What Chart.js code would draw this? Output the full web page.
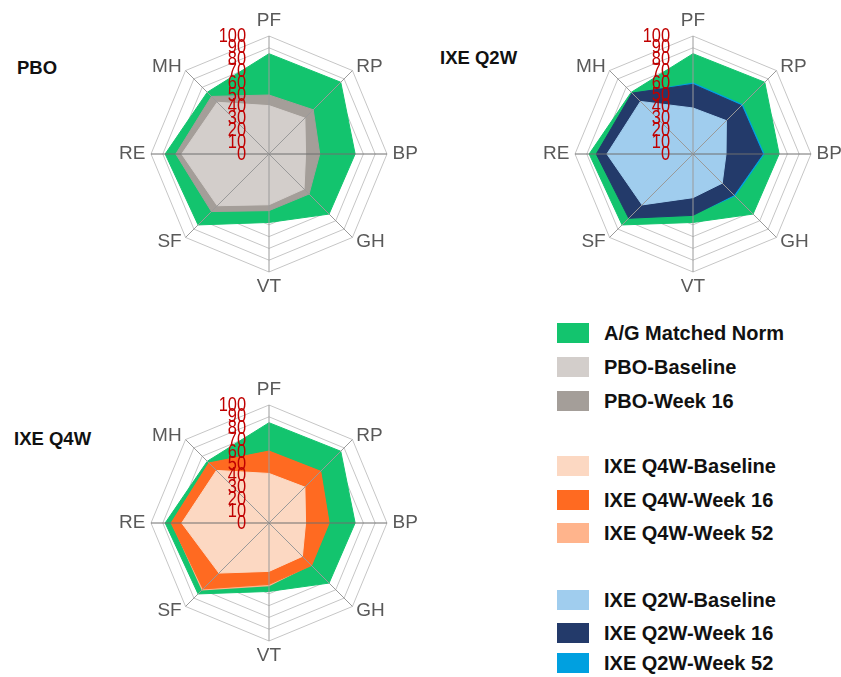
<!DOCTYPE html>
<html>
<head>
<meta charset="utf-8">
<script src="https://cdn.jsdelivr.net/npm/chart.js@4.4.1/dist/chart.umd.min.js"></script>
<style>
  html, body { margin: 0; padding: 0; background: #fff; }
  body { width: 841px; height: 677px; position: relative; overflow: hidden;
         font-family: "Liberation Sans", Arial, sans-serif; }
  .panel { position: absolute; width: 360px; height: 320px; }
  .title { position: absolute; font-weight: bold; font-size: 18.5px; color: #111; line-height: 1; }
  .legend-row { position: absolute; left: 557px; height: 20px; display: flex; align-items: center; }
  .swatch { width: 32px; height: 20px; margin-right: 15px; }
  .legend-row span { font-weight: bold; font-size: 20px; color: #111; white-space: nowrap; }
</style>
</head>
<body>
<div class="title" style="left:17px; top:59px;">PBO</div>
<div class="title" style="left:440px; top:49px;">IXE Q2W</div>
<div class="title" style="left:14px; top:430px;">IXE Q4W</div>

<div class="panel" style="left:89px; top:-6px;"><canvas id="chart-pbo"></canvas></div>
<div class="panel" style="left:513px; top:-6px;"><canvas id="chart-q2w"></canvas></div>
<div class="panel" style="left:89px; top:363px;"><canvas id="chart-q4w"></canvas></div>

<div id="legend"></div>

<script>
const domains = ["PF", "RP", "BP", "GH", "VT", "SF", "RE", "MH"];
const tickValues = [0, 10, 20, 30, 40, 50, 60, 70, 80, 90, 100];

const normScores = [85, 86, 73, 72, 58, 85, 88, 74];
const pboBaseline = [41, 43, 31, 42, 43, 62, 74, 62];
const pboWeek16 = [50, 53, 43, 48, 48, 69, 79, 69];
const q4wBaseline = [42, 43, 31, 40, 41, 60, 74, 63];
const q4wWeek16 = [61, 62, 51, 51, 52, 79, 83, 72];
const q4wWeek52 = [60, 61, 50, 50, 53, 80, 82, 71];
const q2wBaseline = [39, 40, 28, 35, 37, 61, 73, 63];
const q2wWeek16 = [59, 58, 59, 49, 52, 77, 82, 73];
const q2wWeek52 = [60, 59, 60, 50, 51, 76, 81, 72];

const colors = {
  norm: "#13c46e",
  pboBase: "#d3cecb",
  pboWk16: "#a49e99",
  q4wBase: "#fcd8c2",
  q4wWk16: "#ff6a21",
  q4wWk52: "#ffb48c",
  q2wBase: "#a0cdee",
  q2wWk16: "#233a6a",
  q2wWk52: "#00a0e0",
};

const legendItems = [
  ["A/G Matched Norm", colors.norm, 323],
  ["PBO-Baseline", colors.pboBase, 357],
  ["PBO-Week 16", colors.pboWk16, 391],
  ["IXE Q4W-Baseline", colors.q4wBase, 456],
  ["IXE Q4W-Week 16", colors.q4wWk16, 490],
  ["IXE Q4W-Week 52", colors.q4wWk52, 523],
  ["IXE Q2W-Baseline", colors.q2wBase, 590],
  ["IXE Q2W-Week 16", colors.q2wWk16, 623],
  ["IXE Q2W-Week 52", colors.q2wWk52, 653],
];

document.getElementById("legend").innerHTML = legendItems
  .map(([label, color, top]) => `
    <div class="legend-row" style="top:${top}px">
      <div class="swatch" style="background:${color}"></div>
      <span>${label}</span>
    </div>`)
  .join("");

// red value labels sit left of the vertical axis, on top of the fills
const tickLabelsPlugin = {
  id: "tickLabels",
  afterDraw(chart) {
    const scale = chart.scales.r;
    const ctx = chart.ctx;
    ctx.save();
    ctx.fillStyle = "#c00000";
    ctx.font = "20px 'Liberation Sans', Arial, sans-serif";
    ctx.textAlign = "right";
    ctx.textBaseline = "middle";
    tickValues.forEach((v) => {
      const y = scale.yCenter - scale.getDistanceFromCenterForValue(v);
      ctx.save();
      ctx.translate(scale.xCenter - 23, y);
      ctx.scale(0.82, 1);
      ctx.fillText(String(v), 0, 0);
      ctx.restore();
    });
    ctx.restore();
  },
};

// domain names around the outer ring
const domainLabelsPlugin = {
  id: "domainLabels",
  afterDraw(chart) {
    const scale = chart.scales.r;
    const ctx = chart.ctx;
    ctx.save();
    ctx.fillStyle = "#595959";
    ctx.font = "19px 'Liberation Sans', Arial, sans-serif";
    ctx.textBaseline = "middle";
    domains.forEach((name, i) => {
      const vertical = i === 0 || i === 4;
      const pos = scale.getPointPosition(i, scale.drawingArea + (vertical ? 15 : 5.5));
      const angle = (i * 360) / domains.length;
      ctx.textAlign = vertical ? "center" : angle < 180 ? "left" : "right";
      ctx.fillText(name, pos.x, pos.y);
    });
    ctx.restore();
  },
};

function area(data, color, borderWidth = 1) {
  return {
    data,
    backgroundColor: color,
    borderColor: color,
    borderWidth,
    fill: true,
    pointRadius: 0,
    pointHoverRadius: 0,
  };
}

function radar(id, datasets) {
  return new Chart(document.getElementById(id), {
    type: "radar",
    data: { labels: domains, datasets },
    options: {
      responsive: false,
      animation: false,
      layout: { padding: { left: 62, right: 62, top: 42, bottom: 42 } },
      plugins: { legend: { display: false }, tooltip: { enabled: false } },
      elements: { line: { tension: 0 } },
      scales: {
        r: {
          min: 0,
          max: 100,
          ticks: { display: false, stepSize: 10 },
          grid: { color: "#c6c6c6", lineWidth: 1 },
          angleLines: { display: false },
          pointLabels: { display: false },
        },
        // second radial scale only for the spokes, drawn above the fills
        axes: {
          type: "radialLinear",
          axis: "r",
          min: 0,
          max: 100,
          ticks: { display: false, stepSize: 10 },
          grid: { display: false, z: 1 },
          angleLines: {
            display: true,
            lineWidth: 1,
            color: (ctx) => (ctx.index === 2 || ctx.index === 6 ? "#6f6f6f" : "#9a9a9a"),
          },
          pointLabels: { display: false },
        },
      },
    },
    plugins: [tickLabelsPlugin, domainLabelsPlugin],
  });
}

function sizeCanvas(id) {
  const c = document.getElementById(id);
  c.width = 360;
  c.height = 320;
}
["chart-pbo", "chart-q2w", "chart-q4w"].forEach(sizeCanvas);

radar("chart-pbo", [
  area(pboBaseline, colors.pboBase),
  area(pboWeek16, colors.pboWk16),
  area(normScores, colors.norm),
]);

radar("chart-q2w", [
  area(q2wBaseline, colors.q2wBase),
  area(q2wWeek16, colors.q2wWk16),
  area(q2wWeek52, colors.q2wWk52, 1.5),
  area(normScores, colors.norm),
]);

radar("chart-q4w", [
  area(q4wBaseline, colors.q4wBase),
  area(q4wWeek16, colors.q4wWk16),
  area(q4wWeek52, colors.q4wWk52, 1.5),
  area(normScores, colors.norm),
]);
</script>
</body>
</html>
